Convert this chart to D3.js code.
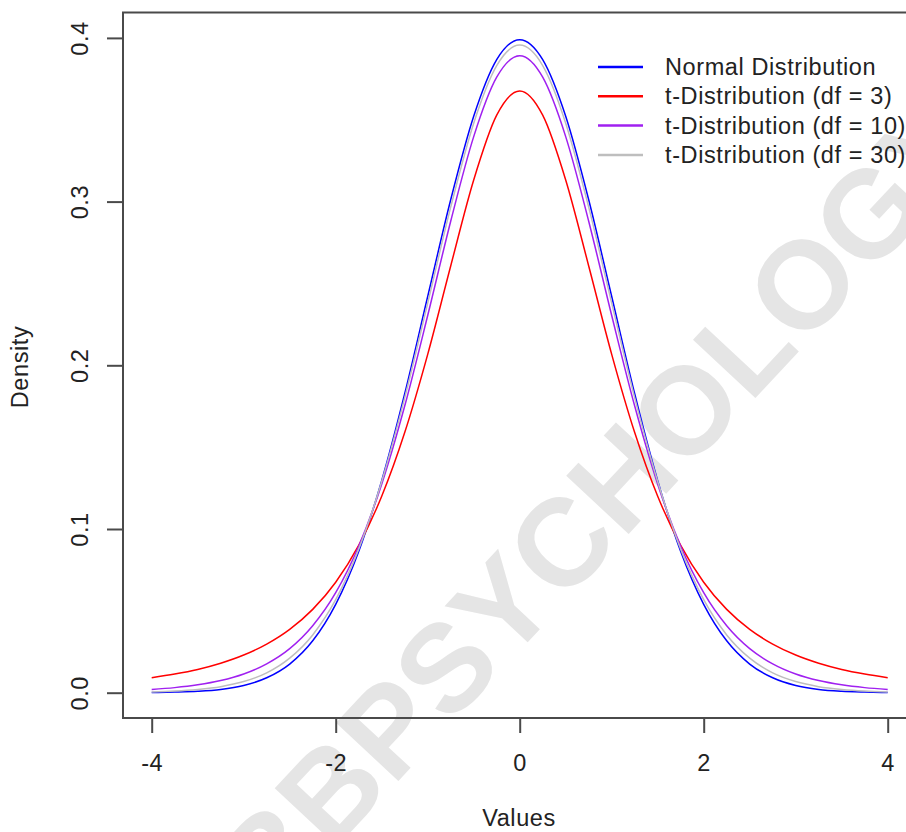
<!DOCTYPE html>
<html>
<head>
<meta charset="utf-8">
<style>
body { margin: 0; background: #fff; }
text { font-family: "Liberation Sans", Arial, sans-serif; }
</style>
</head>
<body>
<script src="https://cdnjs.cloudflare.com/ajax/libs/d3/7.8.5/d3.min.js"></script>
<script>
// density curves at steps of 0.25 (left half mirrors right half)
var xs = [-4, -3.75, -3.5, -3.25, -3, -2.75, -2.5, -2.25, -2, -1.75, -1.5, -1.25, -1, -0.75, -0.5, -0.25,
          0, 0.25, 0.5, 0.75, 1, 1.25, 1.5, 1.75, 2, 2.25, 2.5, 2.75, 3, 3.25, 3.5, 3.75, 4]

var normalHalf = [0.3989, 0.3867, 0.3521, 0.3011, 0.2420, 0.1826, 0.1295, 0.0863, 0.0540, 0.0317, 0.0175, 0.0091, 0.0044, 0.0020, 0.0009, 0.0004, 0.0001]
var t3Half     = [0.3676, 0.3528, 0.3132, 0.2607, 0.2067, 0.1589, 0.1200, 0.0900, 0.0675, 0.0509, 0.0387, 0.0297, 0.0230, 0.0180, 0.0142, 0.0114, 0.0092]
var t10Half    = [0.3891, 0.3760, 0.3397, 0.2880, 0.2304, 0.1751, 0.1274, 0.0895, 0.0611, 0.0409, 0.0269, 0.0176, 0.0114, 0.0074, 0.0048, 0.0031, 0.0020]
var t30Half    = [0.3956, 0.3831, 0.3479, 0.2966, 0.2380, 0.1801, 0.1290, 0.0877, 0.0568, 0.0353, 0.0211, 0.0121, 0.0068, 0.0037, 0.0020, 0.0010, 0.0005]

var seriesNames = ["Normal Distribution", "t-Distribution (df = 3)", "t-Distribution (df = 10)", "t-Distribution (df = 30)"]
var seriesColors = ["#0000ff", "#ff0000", "#a020f0", "#bebebe"]

var xTicks = [-4, -2, 0, 2, 4]
var xTickLabels = ["-4", "-2", "0", "2", "4"]
var yTicks = [0.0, 0.1, 0.2, 0.3, 0.4]
var yTickLabels = ["0.0", "0.1", "0.2", "0.3", "0.4"]

function mirror(half) {
	// half goes 0 -> 4, build -4 -> 4
	return half.slice(1).reverse().concat(half)
}

var series = [normalHalf, t3Half, t10Half, t30Half].map(function(h) { return mirror(h) })

var svgWidth = 906
var svgHeight = 832
var fontSize = "23.5px"
var spacing = "0.6px"

var svg = d3.select("body").append("svg")
	.attr("width", svgWidth)
	.attr("height", svgHeight)

// plot region (right edge runs off the picture)
var boxL = 123, boxT = 12.5, boxR = 916, boxB = 718

var x = d3.scaleLinear().domain([-4, 4]).range([151.7, 887.7])
var y = d3.scaleLinear().domain([0, 0.4]).range([692.7, 37.9])

// watermark
svg.append("text")
	.attr("transform", "translate(568,536) rotate(-47)")
	.attr("text-anchor", "middle")
	.attr("dominant-baseline", "central")
	.style("font-size", "124px")
	.style("font-weight", "bold")
	.style("fill", "#e5e5e5")
	.text("ABBPSYCHOLOGY")

// box
svg.append("path")
	.attr("d", "M" + boxR + " " + boxT + " L" + boxL + " " + boxT + " L" + boxL + " " + boxB + " L" + boxR + " " + boxB)
	.attr("fill", "none")
	.attr("stroke", "#4a4a4a")
	.attr("stroke-width", 2)

// axes
var xAxis = d3.axisBottom(x).tickValues(xTicks).tickSize(15).tickPadding(21)
	.tickFormat(function(d, i) { return xTickLabels[i] })
var gx = svg.append("g").attr("transform", "translate(0," + boxB + ")").call(xAxis)
gx.select(".domain").remove()

var yAxis = d3.axisLeft(y).tickValues(yTicks).tickSize(16)
	.tickFormat(function(d, i) { return yTickLabels[i] })
var gy = svg.append("g").attr("transform", "translate(" + boxL + ",0)").call(yAxis)
gy.select(".domain").remove()

svg.selectAll(".tick line").attr("stroke", "#4a4a4a").attr("stroke-width", 2)
svg.selectAll(".tick text")
	.style("font-size", fontSize)
	.style("letter-spacing", spacing)
	.style("font-family", "Liberation Sans, Arial, sans-serif")
	.attr("fill", "#222")

// y tick labels are turned on their side like R does it
gy.selectAll(".tick text")
	.attr("x", null).attr("dy", null)
	.attr("text-anchor", "middle")
	.attr("transform", "translate(-43,0) rotate(-90)")
	.attr("dominant-baseline", "central")

// curves
var line = d3.line()
	.x(function(d, i) { return x(xs[i]) })
	.y(function(d) { return y(d) })
	.curve(d3.curveMonotoneX)

// draw order: normal, t3, t10, t30
for (var i = 0; i < series.length; i++) {
	svg.append("path")
		.datum(series[i])
		.attr("d", line)
		.attr("fill", "none")
		.attr("stroke", seriesColors[i])
		.attr("stroke-width", 1.5)
}

// axis titles
svg.append("text")
	.attr("x", 519).attr("y", 826)
	.attr("text-anchor", "middle")
	.style("font-size", fontSize)
	.style("letter-spacing", spacing)
	.attr("fill", "#222")
	.text("Values")

svg.append("text")
	.attr("transform", "translate(28,367) rotate(-90)")
	.attr("text-anchor", "middle")
	.style("font-size", fontSize)
	.style("letter-spacing", spacing)
	.attr("fill", "#222")
	.text("Density")

// legend
var legend = svg.append("g")
for (var i = 0; i < seriesNames.length; i++) {
	var ly = 67 + i * 29.3
	legend.append("line")
		.attr("x1", 598).attr("x2", 643)
		.attr("y1", ly).attr("y2", ly)
		.attr("stroke", seriesColors[i])
		.attr("stroke-width", 2.5)
	legend.append("text")
		.attr("x", 665).attr("y", ly)
		.attr("dominant-baseline", "central")
		.style("font-size", fontSize)
		.style("letter-spacing", spacing)
		.attr("fill", "#222")
		.text(seriesNames[i])
}
</script>
</body>
</html>
